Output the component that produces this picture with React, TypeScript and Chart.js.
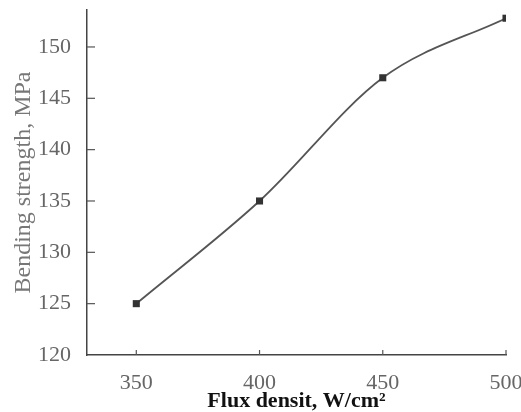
import React, { useEffect, useRef } from "react";
import { Chart, registerables } from "chart.js";

Chart.register(...registerables);

const fluxDensity = [350, 400, 450, 500];
const bendingStrength = [125, 135, 147, 152.8];
const xTickValues = [350, 400, 450, 500];
const yTickValues = [120, 125, 130, 135, 140, 145, 150];
const xTitle = "Flux densit, W/cm\u00b2";
const yTitle = "Bending strength, MPa";

const inwardTicks = {
  id: "inwardTicks",
  afterDraw(chart: any) {
    const ctx = chart.ctx;
    const xs = chart.scales.x;
    const ys = chart.scales.y;
    const area = chart.chartArea;
    ctx.save();
    ctx.strokeStyle = "#555";
    ctx.lineWidth = 1.2;
    yTickValues.forEach((v) => {
      if (v === yTickValues[0]) return;
      const py = ys.getPixelForValue(v);
      ctx.beginPath();
      ctx.moveTo(area.left, py);
      ctx.lineTo(area.left + 8, py);
      ctx.stroke();
    });
    xTickValues.forEach((v) => {
      const px = xs.getPixelForValue(v);
      ctx.beginPath();
      ctx.moveTo(px, area.bottom);
      ctx.lineTo(px, area.bottom - 5);
      ctx.stroke();
    });
    ctx.restore();
  },
};

export default function App() {
  const ref = useRef<HTMLCanvasElement | null>(null);
  useEffect(() => {
    if (!ref.current) return;
    const chart = new Chart(ref.current, {
      type: "line",
      data: {
        datasets: [
          {
            data: fluxDensity.map((x, i) => ({ x, y: bendingStrength[i] })),
            borderColor: "#555",
            borderWidth: 1.8,
            backgroundColor: "#333",
            pointStyle: "rect",
            pointRadius: 5,
            pointBorderWidth: 0,
            pointBackgroundColor: "#333",
            cubicInterpolationMode: "monotone",
            fill: false,
          },
        ],
      },
      options: {
        responsive: false,
        animation: false,
        layout: { padding: 0 },
        plugins: { legend: { display: false }, tooltip: { enabled: false } },
        scales: {
          x: {
            type: "linear",
            min: 330,
            max: 500,
            afterBuildTicks: (s: any) => {
              s.ticks = xTickValues.map((v) => ({ value: v }));
            },
            afterFit: (s: any) => {
              s.height = 57;
              s.paddingLeft = 0;
              s.paddingRight = 15;
            },
            grid: { display: false },
            border: { display: true, color: "#444", width: 1.5 },
            ticks: {
              padding: 7,
              color: "#666",
              maxRotation: 0,
              font: { family: "Liberation Serif", size: 22 },
            },
            title: {
              display: true,
              text: xTitle,
              color: "#111",
              padding: { top: 0, bottom: -3 },
              font: { family: "Liberation Serif", size: 22, weight: "bold" },
            },
          },
          y: {
            type: "linear",
            min: 120,
            max: 153.6,
            afterBuildTicks: (s: any) => {
              s.ticks = yTickValues.map((v) => ({ value: v }));
            },
            afterFit: (s: any) => {
              s.width = 87;
              s.paddingTop = 10;
              s.paddingBottom = 0;
            },
            grid: { display: false },
            border: { display: true, color: "#444", width: 1.5 },
            ticks: {
              padding: 8,
              color: "#666",
              font: { family: "Liberation Serif", size: 22 },
            },
            title: {
              display: true,
              text: yTitle,
              color: "#777",
              padding: { top: 9, bottom: 0 },
              font: { family: "Liberation Serif", size: 24 },
            },
          },
        },
      },
      plugins: [inwardTicks],
    } as any);
    return () => chart.destroy();
  }, []);
  return (
    <div style={{ position: "absolute", left: 0, top: 0, width: 521, height: 412, background: "#fff" }}>
      <canvas ref={ref} width={521} height={412} />
    </div>
  );
}
